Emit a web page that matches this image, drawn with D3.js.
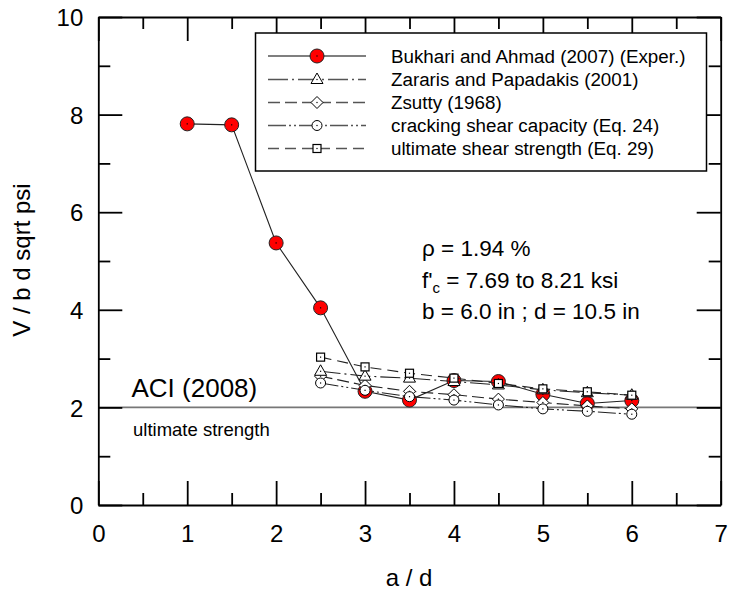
<!DOCTYPE html>
<html>
<head>
  <meta charset="utf-8">
  <title>Shear strength vs a/d</title>
  <script src="https://d3js.org/d3.v7.min.js"></script>
  <style>
    body { margin: 0; background: #fff; }
    svg text { font-family: "Liberation Sans", Arial, sans-serif; fill: #000; }
  </style>
</head>
<body>
<svg id="chart" width="729" height="593"></svg>
<script>
  // values
  var adExp = [1, 1.5, 2, 2.5, 3, 3.5, 4, 4.5, 5, 5.5, 6];
  var vBukhari = [7.81, 7.79, 5.37, 4.04, 2.33, 2.15, 2.55, 2.53, 2.27, 2.08, 2.14];

  var adModel = [2.5, 3, 3.5, 4, 4.5, 5, 5.5, 6];
  var vZararis = [2.74, 2.64, 2.60, 2.53, 2.46, 2.36, 2.30, 2.25];
  var vZsutty = [2.64, 2.45, 2.33, 2.26, 2.17, 2.10, 2.03, 1.97];
  var vCracking = [2.50, 2.35, 2.22, 2.15, 2.05, 1.97, 1.92, 1.86];
  var vUltimate = [3.03, 2.83, 2.70, 2.60, 2.49, 2.38, 2.32, 2.25];

  var xMajor = [0, 1, 2, 3, 4, 5, 6, 7];
  var xMinor = [0.5, 1.5, 2.5, 3.5, 4.5, 5.5, 6.5];
  var yMajor = [0, 2, 4, 6, 8, 10];
  var yMinor = [1, 3, 5, 7, 9];

  var aciValue = 2;

  var series = [
    { name: "Bukhari and Ahmad (2007) (Exper.)", x: adExp, y: vBukhari, symbol: "bigcircle", dash: null },
    { name: "Zsutty (1968)", x: adModel, y: vZsutty, symbol: "diamond", dash: "12,5" },
    { name: "Zararis and Papadakis (2001)", x: adModel, y: vZararis, symbol: "triangle", dash: "20,4,2,4" },
    { name: "cracking shear capacity (Eq. 24)", x: adModel, y: vCracking, symbol: "circle", dash: "18,3,2,3,2,3" },
    { name: "ultimate shear strength (Eq. 29)", x: adModel, y: vUltimate, symbol: "square", dash: "11,6" }
  ];
  var legendOrder = [0, 2, 1, 3, 4];

  var svg = d3.select("#chart");
  var pLeft = 98.3, pRight = 720.7, pTop = 17, pBottom = 505;

  var x = d3.scaleLinear().domain([0, 7]).range([pLeft, pRight]);
  var y = d3.scaleLinear().domain([0, 10]).range([pBottom, pTop]);

  /* ACI reference line */
  svg.append("line")
     .attr("x1", x(0)).attr("x2", x(7))
     .attr("y1", y(aciValue)).attr("y2", y(aciValue))
     .style("stroke", "#777")
     .style("stroke-width", 1.6);

  svg.append("text")
     .attr("x", 131.5).attr("y", 397)
     .style("font-size", "26px")
     .text("ACI (2008)");
  svg.append("text")
     .attr("x", 133).attr("y", 436)
     .style("font-size", "18.5px")
     .text("ultimate strength");

  /* axes: ticks point inward, major + minor, mirrored on top and right */
  function styleAxis(g) {
    g.selectAll("path, line").style("stroke", "#000").style("stroke-width", 1.8);
    g.selectAll("text").style("font-size", "24px")
     .style("font-family", "'Liberation Sans', Arial, sans-serif");
  }

  svg.append("g").attr("transform", "translate(0," + pBottom + ")")
     .call(d3.axisBottom(x).tickValues(xMajor).tickSizeInner(-24).tickSizeOuter(0)
       .tickFormat(d3.format("d")))
     .call(styleAxis)
     .call(function(g) { g.selectAll("text").attr("dy", "0").attr("y", 37); });
  svg.append("g").attr("transform", "translate(0," + pBottom + ")")
     .call(d3.axisBottom(x).tickValues(xMinor).tickSize(-12).tickFormat(""))
     .call(styleAxis).call(function(g) { g.select(".domain").remove(); });

  svg.append("g").attr("transform", "translate(0," + pTop + ")")
     .call(d3.axisTop(x).tickValues(xMajor).tickSizeInner(-24).tickSizeOuter(0).tickFormat(""))
     .call(styleAxis);
  svg.append("g").attr("transform", "translate(0," + pTop + ")")
     .call(d3.axisTop(x).tickValues(xMinor).tickSize(-12).tickFormat(""))
     .call(styleAxis).call(function(g) { g.select(".domain").remove(); });

  svg.append("g").attr("transform", "translate(" + pLeft + ",0)")
     .call(d3.axisLeft(y).tickValues(yMajor).tickSizeInner(-24).tickSizeOuter(0)
       .tickFormat(d3.format("d")))
     .call(styleAxis)
     .call(function(g) { g.selectAll("text").attr("x", -15).attr("dy", "0.36em"); });
  svg.append("g").attr("transform", "translate(" + pLeft + ",0)")
     .call(d3.axisLeft(y).tickValues(yMinor).tickSize(-12).tickFormat(""))
     .call(styleAxis).call(function(g) { g.select(".domain").remove(); });

  svg.append("g").attr("transform", "translate(" + pRight + ",0)")
     .call(d3.axisRight(y).tickValues(yMajor).tickSizeInner(-24).tickSizeOuter(0).tickFormat(""))
     .call(styleAxis);
  svg.append("g").attr("transform", "translate(" + pRight + ",0)")
     .call(d3.axisRight(y).tickValues(yMinor).tickSize(-12).tickFormat(""))
     .call(styleAxis).call(function(g) { g.select(".domain").remove(); });

  /* axis titles */
  svg.append("text")
     .attr("x", 409).attr("y", 586)
     .attr("text-anchor", "middle")
     .style("font-size", "24px")
     .text("a / d");
  svg.append("text")
     .attr("transform", "translate(30,260) rotate(-90)")
     .attr("text-anchor", "middle")
     .style("font-size", "24px")
     .text("V / b d sqrt psi");

  /* markers */
  function drawSymbol(g, kind, cx, cy) {
    if (kind === "bigcircle") {
      g.append("circle").attr("cx", cx).attr("cy", cy).attr("r", 7)
       .style("fill", "#ff0000").style("stroke", "#222").style("stroke-width", 1);
    } else if (kind === "circle") {
      g.append("circle").attr("cx", cx).attr("cy", cy).attr("r", 5)
       .style("fill", "#fff").style("stroke", "#000").style("stroke-width", 1);
    } else if (kind === "triangle") {
      g.append("path")
       .attr("d", "M" + cx + "," + (cy - 6.5) + "L" + (cx + 6) + "," + (cy + 4) + "L" + (cx - 6) + "," + (cy + 4) + "Z")
       .style("fill", "#fff").style("stroke", "#000").style("stroke-width", 1);
    } else if (kind === "diamond") {
      g.append("path")
       .attr("d", "M" + cx + "," + (cy - 6) + "L" + (cx + 6) + "," + cy + "L" + cx + "," + (cy + 6) + "L" + (cx - 6) + "," + cy + "Z")
       .style("fill", "#fff").style("stroke", "#000").style("stroke-width", 1);
    } else if (kind === "square") {
      g.append("rect").attr("x", cx - 4).attr("y", cy - 4).attr("width", 8).attr("height", 8)
       .style("fill", "#fff").style("stroke", "#000").style("stroke-width", 1.2);
    }
    g.append("rect").attr("x", cx - 0.6).attr("y", cy - 0.6).attr("width", 1.2).attr("height", 1.2)
     .style("fill", "#000");
  }

  var line = d3.line();

  series.forEach(function(s) {
    var pts = s.x.map(function(d, i) { return [x(d), y(s.y[i])]; });
    var g = svg.append("g");
    g.append("path")
     .attr("d", line(pts))
     .style("fill", "none")
     .style("stroke", "#222")
     .style("stroke-width", 1.1)
     .style("stroke-dasharray", s.dash);
    pts.forEach(function(p) { drawSymbol(g, s.symbol, p[0], p[1]); });
  });

  /* legend */
  var lg = svg.append("g");
  lg.append("rect")
    .attr("x", 255.5).attr("y", 33).attr("width", 451).attr("height", 138)
    .style("fill", "#fff").style("stroke", "#000").style("stroke-width", 1.5);
  var rowY = [56, 79.5, 102.5, 125.5, 148.5];
  legendOrder.forEach(function(si, k) {
    var s = series[si];
    var ly = rowY[k];
    lg.append("line")
      .attr("x1", 268).attr("x2", 366).attr("y1", ly).attr("y2", ly)
      .style("stroke", "#555").style("stroke-width", 1.3)
      .style("stroke-dasharray", s.dash);
    drawSymbol(lg, s.symbol, 317, ly);
    lg.append("text")
      .attr("x", 391).attr("y", ly + 6.5)
      .style("font-size", "18.8px")
      .text(s.name);
  });

  /* annotation */
  var ann = svg.append("g").style("font-size", "22.5px");
  ann.append("text").attr("x", 422).attr("y", 256).text("\u03c1 = 1.94 %");
  var fc = ann.append("text").attr("x", 422).attr("y", 288);
  fc.append("tspan").text("f'");
  fc.append("tspan").attr("dy", 5).style("font-size", "15px").text("c");
  fc.append("tspan").attr("dy", -5).text(" = 7.69 to 8.21 ksi");
  ann.append("text").attr("x", 422).attr("y", 319).text("b = 6.0 in ; d = 10.5 in");
</script>
</body>
</html>
